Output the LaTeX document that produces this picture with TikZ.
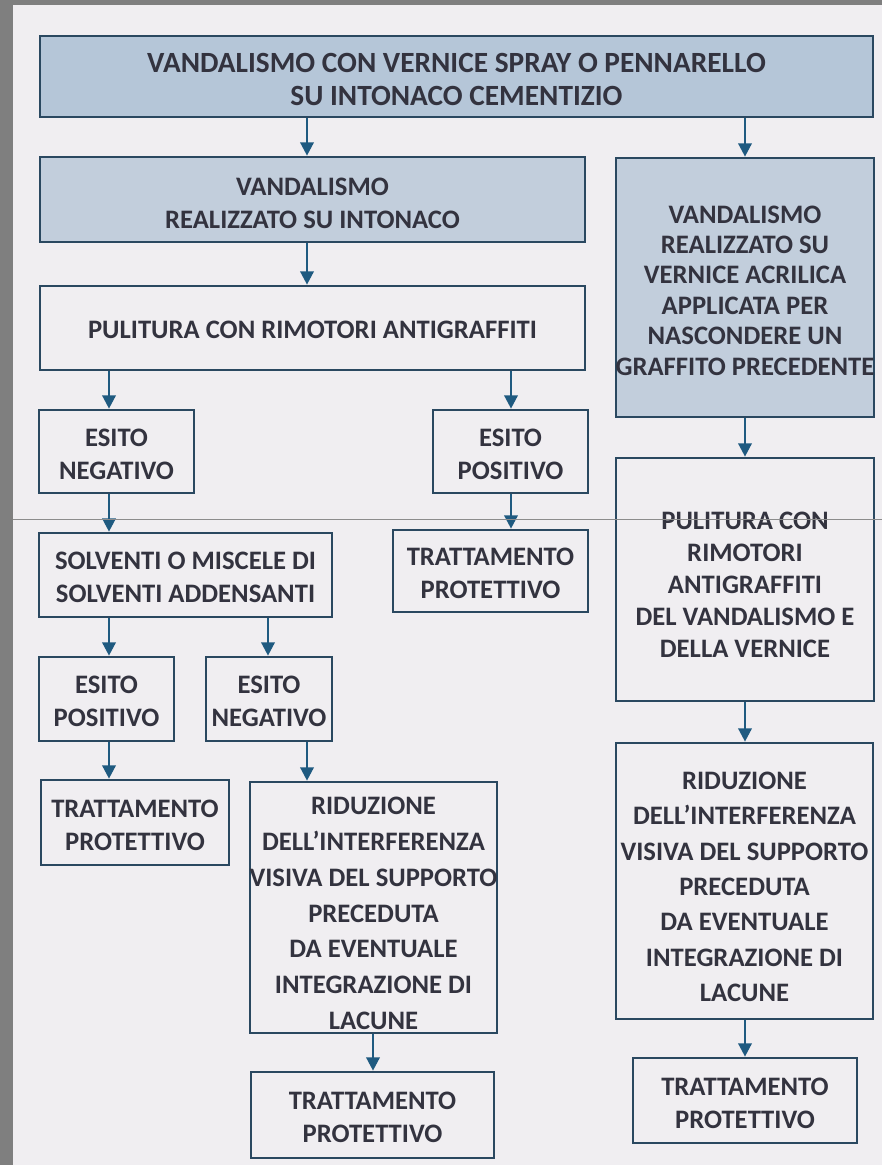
\documentclass[tikz,border=0pt]{standalone}
\usepackage{fontspec}
\setmainfont{Carlito}
\usetikzlibrary{arrows.meta}
\definecolor{bggray}{HTML}{7F7F7F}
\definecolor{paper}{HTML}{F0EEF1}
\definecolor{edge}{HTML}{2A4860}
\definecolor{arrowc}{HTML}{1F5A80}
\definecolor{fillA}{HTML}{B5C6D8}
\definecolor{fillB}{HTML}{C2CEDC}
\definecolor{txt}{HTML}{33333F}
\begin{document}
\begin{tikzpicture}[x=0.75pt,y=-0.75pt,
  box/.style={draw=edge, line width=2pt, fill=paper, inner sep=0pt},
  bluebox/.style={fill=fillB},
  lbl/.style n args={2}{text=txt, align=center, inner sep=0pt,
    font=\bfseries\fontsize{#1}{#2}\selectfont},
  shortlbl/.style={lbl={20}{24.75}},
  arr/.style={draw=arrowc, line width=1.9pt, -{Triangle[width=10pt,length=10pt]}}]
\useasboundingbox (0,0) rectangle (882,1165);
\fill[bggray] (0,0) rectangle (882,1165);
\fill[paper] (13,5) rectangle (882,1165);

\coordinate (x109) at (109,0);
\coordinate (x268) at (268,0);
\coordinate (x307) at (307,0);
\coordinate (x373) at (373,0);
\coordinate (x511) at (511,0);
\coordinate (x745) at (745,0);

% boxes
\node[box, fill=fillA, minimum width=833*0.75pt, minimum height=81*0.75pt] (b1) at (456.5,76.5) {};
\node[box, bluebox, minimum width=545*0.75pt, minimum height=85*0.75pt] (b2) at (312.5,199.5) {};
\node[box, minimum width=545*0.75pt, minimum height=84*0.75pt] (b3) at (312.5,328) {};
\node[box, bluebox, minimum width=258*0.75pt, minimum height=259*0.75pt] (r1) at (745,287.5) {};
\node[box, minimum width=155*0.75pt, minimum height=83*0.75pt] (neg1) at (116.5,451.5) {};
\node[box, minimum width=155*0.75pt, minimum height=83*0.75pt] (pos1) at (510.5,451.5) {};
\node[box, minimum width=195*0.75pt, minimum height=82*0.75pt] (tp1) at (490.5,571) {};
\node[box, minimum width=293*0.75pt, minimum height=84*0.75pt] (solv) at (185.5,575) {};
\node[box, minimum width=135*0.75pt, minimum height=84*0.75pt] (pos2) at (106.5,699) {};
\node[box, minimum width=126*0.75pt, minimum height=84*0.75pt] (neg2) at (269,699) {};
\node[box, minimum width=188*0.75pt, minimum height=85*0.75pt] (tp2) at (135,822.5) {};
\node[box, minimum width=247*0.75pt, minimum height=251*0.75pt] (rid1) at (373.5,907.5) {};
\node[box, minimum width=243*0.75pt, minimum height=86*0.75pt] (tp3) at (372.5,1115) {};
\node[box, minimum width=258*0.75pt, minimum height=243*0.75pt] (r2) at (745,579.5) {};
\node[box, minimum width=257*0.75pt, minimum height=276*0.75pt] (r3) at (744.5,881) {};
\node[box, minimum width=224*0.75pt, minimum height=85*0.75pt] (tp4) at (745,1100.5) {};

% texts
\node[lbl={22}{24.75}] (b1t) at ([yshift=-2.25pt]b1.center)
  {VANDALISMO CON VERNICE SPRAY O PENNARELLO\\SU INTONACO CEMENTIZIO};
\node[shortlbl] (b2t) at ([yshift=-3pt]b2.center) {VANDALISMO\\REALIZZATO SU INTONACO};
\node[shortlbl] (b3t) at ([yshift=-1.5pt]b3.center) {PULITURA CON RIMOTORI ANTIGRAFFITI};
\node[lbl={20}{22.8}] (r1t) at ([yshift=-2.25pt]r1.center)
  {VANDALISMO\\REALIZZATO SU\\VERNICE ACRILICA\\APPLICATA PER\\NASCONDERE UN\\GRAFFITO PRECEDENTE};
\node[shortlbl] (neg1t) at ([yshift=-2pt]neg1.center) {ESITO\\NEGATIVO};
\node[shortlbl] (pos1t) at ([yshift=-2pt]pos1.center) {ESITO\\POSITIVO};
\node[shortlbl] (tp1t) at ([yshift=-1.5pt]tp1.center) {TRATTAMENTO\\PROTETTIVO};
\node[shortlbl] (solvt) at ([yshift=-1.5pt]solv.center) {SOLVENTI O MISCELE DI\\SOLVENTI ADDENSANTI};
\node[shortlbl] (pos2t) at ([yshift=-1.5pt]pos2.center) {ESITO\\POSITIVO};
\node[shortlbl] (neg2t) at ([yshift=-1.5pt]neg2.center) {ESITO\\NEGATIVO};
\node[shortlbl] (tp2t) at ([yshift=-2pt]tp2.center) {TRATTAMENTO\\PROTETTIVO};
\node[lbl={20}{26.8}] (rid1t) at ([yshift=-4.5pt]rid1.center)
  {RIDUZIONE\\DELL’INTERFERENZA\\VISIVA DEL SUPPORTO\\PRECEDUTA\\DA EVENTUALE\\INTEGRAZIONE DI\\LACUNE};
\node[shortlbl] (tp3t) at ([yshift=-1.5pt]tp3.center) {TRATTAMENTO\\PROTETTIVO};
\node[lbl={20}{24}] (r2t) at ([yshift=-3.75pt]r2.center)
  {PULITURA CON\\RIMOTORI\\ANTIGRAFFITI\\DEL VANDALISMO E\\DELLA VERNICE};
\node[lbl={20}{26.5}] (r3t) at ([yshift=-4.5pt]r3.center)
  {RIDUZIONE\\DELL’INTERFERENZA\\VISIVA DEL SUPPORTO\\PRECEDUTA\\DA EVENTUALE\\INTEGRAZIONE DI\\LACUNE};
\node[shortlbl] (tp4t) at ([yshift=-2pt]tp4.center) {TRATTAMENTO\\PROTETTIVO};

% connectors
\draw[arr] (b1.south -| x307) -- (b2.north -| x307);
\draw[arr] (b1.south -| x745) -- (r1.north -| x745);
\draw[arr] (b2.south -| x307) -- (b3.north -| x307);
\draw[arr] (b3.south -| x109) -- (neg1.north -| x109);
\draw[arr] (b3.south -| x511) -- (pos1.north -| x511);
\draw[arr] (pos1.south -| x511) -- (tp1.north -| x511);
\draw[arr] (neg1.south -| x109) -- (solv.north -| x109);
\draw[arr] (solv.south -| x109) -- (pos2.north -| x109);
\draw[arr] (solv.south -| x268) -- (neg2.north -| x268);
\draw[arr] (pos2.south -| x109) -- (tp2.north -| x109);
\draw[arr] (neg2.south -| x307) -- (rid1.north -| x307);
\draw[arr] (rid1.south -| x373) -- (tp3.north -| x373);
\draw[arr] (r1.south -| x745) -- (r2.north -| x745);
\draw[arr] (r2.south -| x745) -- (r3.north -| x745);
\draw[arr] (r3.south -| x745) -- (tp4.north -| x745);

\draw[black!45, line width=0.6pt] (13,519) -- (882,519);
\end{tikzpicture}
\end{document}
